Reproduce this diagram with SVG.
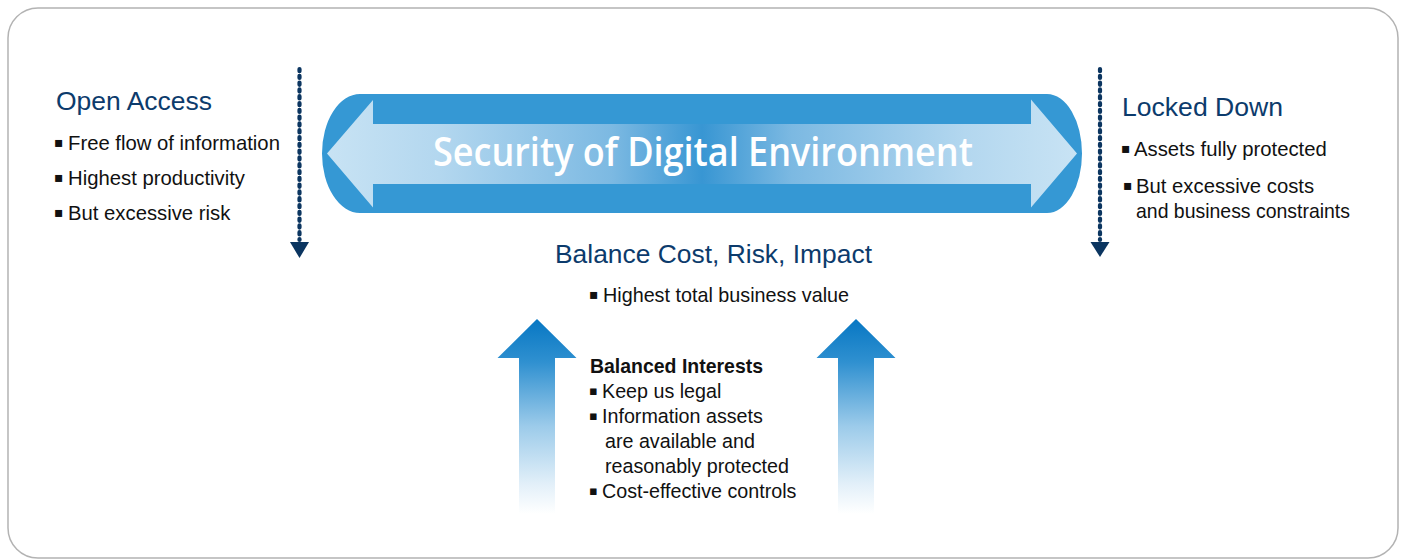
<svg xmlns="http://www.w3.org/2000/svg" width="1401" height="560" viewBox="0 0 1401 560">
<defs>
<linearGradient id="barGrad" gradientUnits="userSpaceOnUse" x1="327" y1="0" x2="1077" y2="0">
<stop offset="0" stop-color="#c8e3f4"/>
<stop offset="0.15" stop-color="#b3d7ef"/>
<stop offset="0.38" stop-color="#7cb9e2"/>
<stop offset="0.5" stop-color="#3896d3"/>
<stop offset="0.62" stop-color="#7cb9e2"/>
<stop offset="0.85" stop-color="#b3d7ef"/>
<stop offset="1" stop-color="#c8e3f4"/>
</linearGradient>
<linearGradient id="upGrad" x1="0" y1="0" x2="0" y2="1">
<stop offset="0" stop-color="#0777c3"/>
<stop offset="0.22" stop-color="#2f90d0"/>
<stop offset="0.55" stop-color="#9ccbea"/>
<stop offset="0.85" stop-color="#e3f0f9"/>
<stop offset="1" stop-color="#ffffff"/>
</linearGradient>
<style>
.title{font-family:"Liberation Sans",Arial,sans-serif;font-size:26.5px;fill:#0c3b6c;}
.body{font-family:"Liberation Sans",Arial,sans-serif;font-size:20.3px;fill:#111111;}
.small{font-family:"Liberation Sans",Arial,sans-serif;font-size:19.7px;fill:#111111;}
.bul{font-family:"DejaVu Sans",sans-serif;}
.dash{stroke:#0b3560;stroke-width:4.2;stroke-linecap:round;stroke-dasharray:2.2 4.6;fill:none;}
.head{fill:#0b3560;}
</style>
</defs>
<rect x="8" y="8" width="1390" height="550" rx="30" ry="30" fill="#ffffff" stroke="#b3b3b3" stroke-width="1.5"/>

<g id="security-bar">
<path d="M360,94 H1047 A35,59.5 0 0 1 1047,213 H360 A38,59.5 0 0 1 360,94 Z" fill="#3598d4"/>
<polygon points="327,153.5 373,100 373,124 1031,124 1031,99.5 1077,153.5 1031,207.5 1031,184 373,184 373,207.5" fill="url(#barGrad)"/>
<text x="703" y="166" text-anchor="middle" textLength="540" lengthAdjust="spacingAndGlyphs" font-family="'Open Sans','Liberation Sans',Arial,sans-serif" font-weight="600" font-size="39" fill="#ffffff">Security of Digital Environment</text>
</g>

<g id="open-access">
<text class="title" x="56" y="110" textLength="156" lengthAdjust="spacingAndGlyphs">Open Access</text>
<text class="body" y="150"><tspan class="bul" x="54" dy="-3" font-size="14">▪</tspan><tspan x="68" dy="3">Free flow of information</tspan></text>
<text class="body" y="185"><tspan class="bul" x="54" dy="-3" font-size="14">▪</tspan><tspan x="68" dy="3">Highest productivity</tspan></text>
<text class="body" y="220"><tspan class="bul" x="54" dy="-3" font-size="14">▪</tspan><tspan x="68" dy="3">But excessive risk</tspan></text>
</g>

<g id="locked-down">
<text class="title" x="1122" y="116" textLength="161" lengthAdjust="spacingAndGlyphs">Locked Down</text>
<text class="body" y="156"><tspan class="bul" x="1121" dy="-3" font-size="14">▪</tspan><tspan x="1134" dy="3">Assets fully protected</tspan></text>
<text class="body" y="193"><tspan class="bul" x="1123" dy="-3" font-size="14">▪</tspan><tspan x="1136" dy="3">But excessive costs</tspan></text>
<text class="body" x="1136" y="218" textLength="214" lengthAdjust="spacingAndGlyphs">and business constraints</text>
</g>

<g id="balance">
<text class="title" x="555" y="263" textLength="317" lengthAdjust="spacingAndGlyphs">Balance Cost, Risk, Impact</text>
<text class="body" y="302"><tspan class="bul" x="589" dy="-3" font-size="14">▪</tspan><tspan x="603" dy="3" textLength="246" lengthAdjust="spacingAndGlyphs">Highest total business value</tspan></text>
</g>

<g id="balanced-interests">
<text class="small" x="590" y="373" font-weight="bold" textLength="173" lengthAdjust="spacingAndGlyphs">Balanced Interests</text>
<text class="small" y="398"><tspan class="bul" x="589" dy="-3" font-size="13">▪</tspan><tspan x="602" dy="3">Keep us legal</tspan></text>
<text class="small" y="423"><tspan class="bul" x="589" dy="-3" font-size="13">▪</tspan><tspan x="602" dy="3">Information assets</tspan></text>
<text class="small" x="605" y="448">are available and</text>
<text class="small" x="605" y="473">reasonably protected</text>
<text class="small" y="498"><tspan class="bul" x="589" dy="-3" font-size="13">▪</tspan><tspan x="602" dy="3">Cost-effective controls</tspan></text>
</g>

<g id="up-arrow-left">
<polygon points="537,319 576.5,358 555,358 555,514 519,514 519,358 497.5,358" fill="url(#upGrad)"/>
</g>
<g id="up-arrow-right">
<polygon points="856,319 895.5,358 874,358 874,514 838,514 838,358 816.5,358" fill="url(#upGrad)"/>
</g>

<g id="connectors">
<line class="dash" x1="299.5" y1="69" x2="299.5" y2="240"/>
<polygon class="head" points="290,242 309,242 299.5,258"/>
<line class="dash" x1="1100" y1="69" x2="1100" y2="240"/>
<polygon class="head" points="1090.5,242 1109.5,242 1100,257"/>
</g>
</svg>
